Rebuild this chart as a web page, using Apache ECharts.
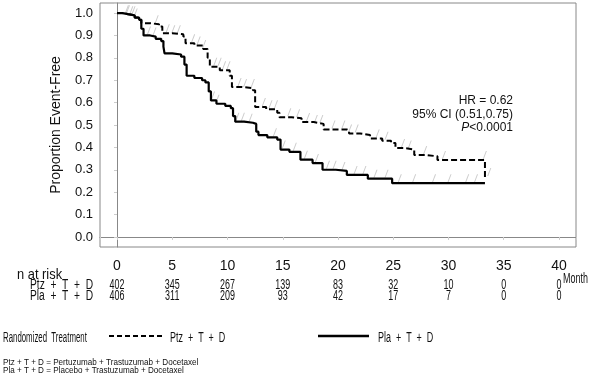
<!DOCTYPE html>
<html><head><meta charset="utf-8">
<script src="https://cdn.jsdelivr.net/npm/echarts@6/dist/echarts.min.js"></script>
<style>html,body{margin:0;padding:0;background:#fff}#c{width:595px;height:382px}</style>
</head><body><div id="c"></div>
<script>
// ---- data ----
const ptzName = 'Ptz  +  T  +  D';
const plaName = 'Pla  +  T  +  D';
const ptzTime = [0,0.5,1.0,1.6,2.0,2.2,3.0,3.8,4.1,5.0,6.0,6.2,7.0,7.8,8.2,8.4,9.3,10.2,10.4,11.3,12.3,12.5,13.5,14.5,14.7,15.8,16.7,17.8,18.7,20.8,21.0,22.0,22.9,24.0,24.8,25.2,26.0,26.9,28.0,29.0,33.3,33.3];
const ptzSurv = [1.0,0.995,0.99,0.98,0.97,0.955,0.95,0.94,0.91,0.905,0.895,0.865,0.855,0.84,0.80,0.76,0.745,0.72,0.67,0.665,0.655,0.58,0.57,0.555,0.535,0.53,0.513,0.505,0.48,0.475,0.462,0.455,0.44,0.43,0.42,0.397,0.39,0.366,0.36,0.344,0.344,0.268];
const plaTime = [0,0.5,1.0,1.6,2.0,2.2,2.4,3.0,3.5,4.0,4.2,4.3,5.0,5.8,6.1,6.3,7.0,7.7,8.0,8.3,8.5,9.0,9.8,10.3,10.5,10.7,11.5,12.3,12.6,12.8,13.6,14.5,14.8,15.6,16.6,17.7,18.6,19.8,20.8,22.7,24.9,33.3];
const plaSurv = [1.0,0.995,0.99,0.98,0.97,0.93,0.90,0.895,0.885,0.875,0.85,0.82,0.815,0.805,0.77,0.72,0.71,0.70,0.69,0.65,0.61,0.595,0.585,0.575,0.54,0.515,0.51,0.505,0.47,0.455,0.445,0.435,0.39,0.38,0.345,0.33,0.30,0.295,0.277,0.26,0.24,0.24];
const ptzCensor = [0.8,1.2,1.6,3.5,4.5,5.0,5.5,6.8,7.3,7.8,8.8,9.2,9.6,10.0,11.0,11.5,12.2,13.2,13.8,14.3,15.5,16.3,17.2,17.9,18.4,19.5,20.4,21.0,21.6,23.5,24.3,25.8,26.4,27.8,29.5,33.2,33.6];
const plaCensor = [0.9,1.4,2.8,3.3,8.6,9.0,10.8,11.3,12.0,14.2,15.0,16.0,17.0,18.0,19.0,19.6,20.4,21.5,22.3,23.3,24.3,25.5,26.8,28.6,30.0,31.6,32.4];
const riskTimes = [0,5,10,15,20,25,30,35,40];
const ptzAtRisk = [402,345,267,139,83,32,10,0,0];
const plaAtRisk = [406,311,209,93,42,17,7,0,0];
const hrLines = ['HR = 0.62','95% CI (0.51,0.75)','P<0.0001'];

// ---- helpers ----
function pairs(t, s){ return t.map((v,i)=>[v,s[i]]); }
function survAt(t, s, x){ let v=s[0]; for(let i=0;i<t.length;i++){ if(t[i]<=x) v=s[i]; } return v; }
const sans = "'Liberation Sans',Arial,sans-serif";
const tick = 'path://M0,10L1.2,10L5,0L3.8,0Z';

const chart = echarts.init(document.getElementById('c'), null, {renderer:'canvas'});
chart.setOption({
  animation:false,
  backgroundColor:'#fff',
  grid:{left:100,right:19,top:3,bottom:135,show:true,borderColor:'#888',borderWidth:1},
  xAxis:{type:'value',min:-1.54,max:41.54,splitNumber:8,
    axisLine:{lineStyle:{color:'#888'}},
    axisTick:{show:true,length:3,lineStyle:{color:'#ccc'}},
    splitLine:{show:false},
    axisLabel:{margin:12,color:'#111',fontFamily:sans,fontSize:14,
      formatter:v=>{const r=Math.round(v); return (Math.abs(v-r)<1e-6 && r%5===0)?String(r):'';}}},
  yAxis:{type:'value',min:-0.045,max:1.045,splitNumber:11,
    name:'Proportion Event-Free',nameLocation:'middle',nameGap:37,
    nameTextStyle:{fontFamily:sans,fontSize:14,color:'#111'},
    axisLine:{show:true,lineStyle:{color:'#888'}},
    axisTick:{show:true,length:3,lineStyle:{color:'#ccc'}},
    splitLine:{show:false},
    axisLabel:{margin:7,color:'#111',fontFamily:sans,fontSize:13,
      formatter:v=>{const r=Math.round(v*10); return (Math.abs(v*10-r)<1e-6 && r>=0 && r<=10)?(r/10).toFixed(1):'';}}},
  series:[
    {name:ptzName,type:'line',step:'end',data:pairs(ptzTime,ptzSurv),showSymbol:false,symbol:'none',
      lineStyle:{color:'#000',width:2,type:[6,3]},itemStyle:{color:'#000'}},
    {name:plaName,type:'line',step:'end',data:pairs(plaTime,plaSurv),showSymbol:false,symbol:'none',
      lineStyle:{color:'#000',width:2.2,type:'solid'},itemStyle:{color:'#000'}},
    {name:'ptzC',type:'scatter',data:ptzCensor.map(x=>[x,survAt(ptzTime,ptzSurv,x)]),symbol:tick,symbolSize:[4,8],symbolOffset:[1,-5],
      itemStyle:{color:'#bdbdbd'},silent:true,z:1},
    {name:'plaC',type:'scatter',data:plaCensor.map(x=>[x,survAt(plaTime,plaSurv,x)]),symbol:tick,symbolSize:[4,8],symbolOffset:[1,-5],
      itemStyle:{color:'#bdbdbd'},silent:true,z:1}
  ]
});

// ---- texts (risk table, legend, annotations) ----
const g = [];
const xp = t => chart.convertToPixel({xAxisIndex:0}, t);
function txt(x, y, text, size, sx, align){
  return {type:'text',x:x,y:y,scaleX:sx,scaleY:1,silent:true,
    style:{text:text,font:size+'px '+sans,fill:'#111',align:align||'left',verticalAlign:'middle'}};
}
g.push(txt(17,275,'n at risk',14,0.92));
g.push(txt(30,285,ptzName,14,0.73));
g.push(txt(30,296,plaName,14,0.73));
riskTimes.forEach((t,i)=>{
  g.push(txt(xp(t),285,String(ptzAtRisk[i]),14,0.64,'center'));
  g.push(txt(xp(t),296,String(plaAtRisk[i]),14,0.64,'center'));
});
g.push(txt(563,279,'Month',14,0.64));
// legend
g.push(txt(3,338,'Randomized  Treatment',14,0.56));
g.push({type:'line',silent:true,shape:{x1:109,y1:336,x2:162,y2:336},style:{stroke:'#000',lineWidth:2,lineDash:[5,3]}});
g.push(txt(170,338,ptzName,14,0.64));
g.push({type:'line',silent:true,shape:{x1:318,y1:336,x2:369,y2:336},style:{stroke:'#000',lineWidth:2.4}});
g.push(txt(378,338,plaName,14,0.64));
// footnotes
g.push(txt(3,363,'Ptz + T + D = Pertuzumab + Trastuzumab + Docetaxel',9,0.9));
g.push(txt(3,371,'Pla + T + D = Placebo + Trastuzumab + Docetaxel',9,0.9));
// HR annotation
g.push(txt(513,101,hrLines[0],12,1,'right'));
g.push(txt(513,114.5,hrLines[1],12,1,'right'));
g.push({type:'text',x:513,y:128,silent:true,style:{text:'{i|P}<0.0001',font:'12px '+sans,fill:'#111',align:'right',verticalAlign:'middle',
  rich:{i:{fontStyle:'italic',fontFamily:sans,fontSize:12,fill:'#111'}}}});
chart.setOption({graphic:g});
</script></body></html>
